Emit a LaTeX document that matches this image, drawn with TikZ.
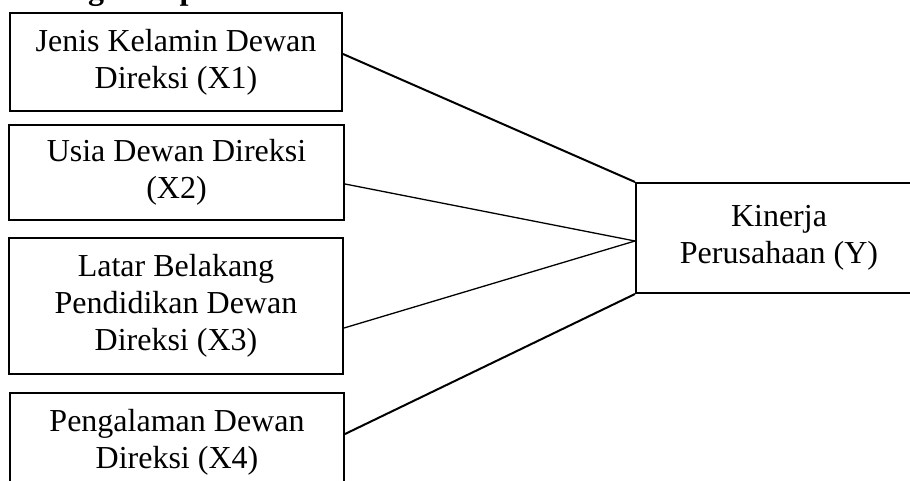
\documentclass[tikz,border=0pt]{standalone}
\usepackage{fontspec}
\setmainfont{Liberation Serif}
\begin{document}
\begin{tikzpicture}[x=0.5pt,y=-0.5pt,
  varbox/.style={draw=black, line width=1pt, rectangle, inner sep=0pt,
    align=center, font=\fontsize{16}{18.4}\selectfont},
  thick link/.style={draw=black, line width=1pt},
  thin link/.style={draw=black, line width=0.65pt}]
  \useasboundingbox (0,0) rectangle (910,481);
  \clip (0,0) rectangle (910,481);

  % heading, running off the top edge
  \node[anchor=base west, inner sep=0pt,
        font=\bfseries\fontsize{16}{18.4}\selectfont] (title) at (0.5,0) {Kerangka Hipotesis};

  % independent variables
  \node[varbox, minimum width=166pt, minimum height=49pt] (x1) at (176,62)
    {Jenis Kelamin Dewan\\Direksi (X1)};
  \node[varbox, minimum width=167.5pt, minimum height=47.5pt] (x2) at (176.5,172.5)
    {Usia Dewan Direksi\\(X2)};
  \node[varbox, minimum width=167pt, minimum height=68pt] (x3) at (176,306)
    {Latar Belakang\\Pendidikan Dewan\\Direksi (X3)};
  \node[varbox, minimum width=167pt, minimum height=49pt] (x4) at (177,442)
    {Pengalaman Dewan\\Direksi (X4)};

  % dependent variable
  \node[varbox, minimum width=143pt, minimum height=55pt] (y) at (779,238)
    {Kinerja\\Perusahaan (Y)};
  \coordinate (yin) at ([yshift=-1.5pt]y.west);

  % links
  \draw[thick link] ([yshift=4pt]x1.east) -- (y.north west);
  \draw[thin link] ([yshift=-5.75pt]x2.east) -- (yin);
  \draw[thin link] ([yshift=-11pt]x3.east) -- (yin);
  \draw[thick link] ([yshift=4pt]x4.east) -- (y.south west);
\end{tikzpicture}
\end{document}
